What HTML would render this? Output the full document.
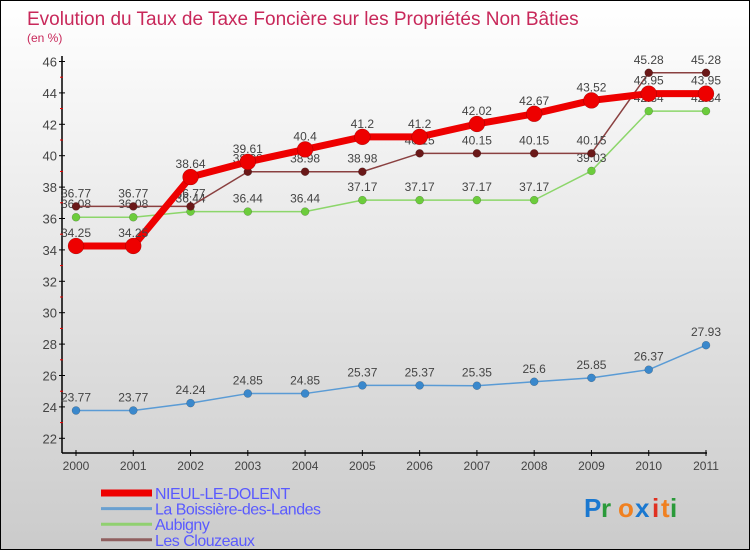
<!DOCTYPE html>
<html><head><meta charset="utf-8"><style>
body{margin:0;}
#wrap{width:748px;height:548px;border:1px solid #000;background:linear-gradient(#fff,#cbcbcb);position:relative;overflow:hidden;font-family:"Liberation Sans",sans-serif;}
svg{position:absolute;left:0;top:0}
</style></head><body>
<div id="wrap">
<svg id="c" width="750" height="550">
<text x="26" y="24" font-size="19" fill="#c8285a">Evolution du Taux de Taxe Foncière sur les Propriétés Non Bâties</text>
<text x="26" y="41" font-size="12" fill="#c8285a">(en %)</text>
</svg>
</div>
<script>
const years=[2000,2001,2002,2003,2004,2005,2006,2007,2008,2009,2010,2011];
const yTicks=[22,24,26,28,30,32,34,36,38,40,42,44,46];
const nieul=[34.25,34.25,38.64,39.61,40.4,41.2,41.2,42.02,42.67,43.52,43.95,43.95];
const boissiere=[23.77,23.77,24.24,24.85,24.85,25.37,25.37,25.35,25.6,25.85,26.37,27.93];
const aubigny=[36.08,36.08,36.44,36.44,36.44,37.17,37.17,37.17,37.17,39.03,42.84,42.84];
const clouzeaux=[36.77,36.77,36.77,38.98,38.98,38.98,40.15,40.15,40.15,40.15,45.28,45.28];
const svg=document.getElementById('c');const NS='http://www.w3.org/2000/svg';
const X=i=>75+i*(630/11);
const Y=v=>60.5+(46-v)*15.7;
function mk(t,a,p){const e=document.createElementNS(NS,t);for(const k in a)e.setAttribute(k,a[k]);(p||svg).appendChild(e);return e;}
let e;
e=mk('line',{x1:61,y1:55,x2:61,y2:452,stroke:'#000','stroke-width':1.5});


e=mk('line',{x1:61,y1:452,x2:706,y2:452,stroke:'#000','stroke-width':1.5});


yTicks.forEach((v,i)=>{
 mk('line',{x1:58,x2:64,y1:Y(v),y2:Y(v),stroke:'#000'});
 if(i<yTicks.length-1) mk('line',{x1:59,x2:62,y1:Y(v+1),y2:Y(v+1),stroke:'#e00'});
 e=mk('text',{x:56,y:Y(v)+5,'font-size':13,fill:'#444','text-anchor':'end'});e.textContent=v;
 
 
});
years.forEach((y,i)=>{
 mk('line',{x1:X(i),x2:X(i),y1:449,y2:455,stroke:'#000'});
 e=mk('text',{x:X(i),y:469,'font-size':12,fill:'#444','text-anchor':'middle'});e.textContent=y;
 
 
});
function series(vals,color,dot,w,r,name,fs){
 const g=mk('g',{});
 
 
 mk('polyline',{points:vals.map((v,i)=>X(i)+','+Y(v)).join(' '),fill:'none',stroke:color,'stroke-width':w,'stroke-linejoin':'round'},g);
 vals.forEach((v,i)=>{
  e=mk('circle',{cx:X(i),cy:Y(v),r:r,fill:dot,stroke:'rgba(0,0,0,0.3)','stroke-width':0.5},g);
  
  
  e=mk('text',{x:X(i),y:Y(v)-9,'font-size':fs,fill:'#444','text-anchor':'middle'},g);e.textContent=v;
  
  
 });
}
series(boissiere,'#5a9bd5','#3a88cc',1.5,4,'series-boissiere',12);
series(aubigny,'#8cd66a','#6ccc3c',1.5,4,'series-aubigny',12);
series(clouzeaux,'#8a4040','#6a1818',1.5,4,'series-clouzeaux',12);
series(nieul,'#ee0000','#ee0000',7,8,'series-nieul',12);
const leg=[['NIEUL-LE-DOLENT','#ee0000',7],['La Boissière-des-Landes','#6aa0d0',3],['Aubigny','#90d070',3],['Les Clouzeaux','#906060',3]];
leg.forEach((l,i)=>{
 const y=492+i*15.6;
 e=mk('line',{x1:100,x2:151,y1:y,y2:y,stroke:l[1],'stroke-width':l[2]});
 
 
 e=mk('text',{x:154,y:y+6,'font-size':16,fill:'#5a5aff','letter-spacing':'-0.5'});e.textContent=l[0];
 
 
});
const logo=[['P','#1a78d0'],['r','#2a9a3a'],['o','#f08020'],['x','#1a78d0'],['i','#e03020'],['t','#f08020'],['i','#2a9a3a']];
let lx=583;
const lg=mk('g',{});


logo.forEach(c=>{e=mk('text',{x:lx,y:516,'font-size':26,fill:c[1],'font-weight':'bold'},lg);e.textContent=c[0];lx+= c[0]=='i'||c[0]=='t'?9:17;});
</script>
</body></html>
